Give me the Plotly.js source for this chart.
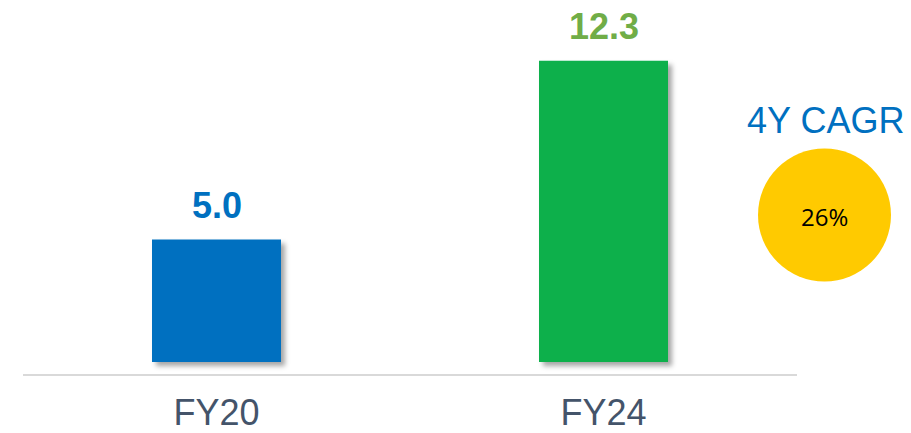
<!DOCTYPE html>
<html><head><meta charset="utf-8">
<script src="https://cdn.plot.ly/plotly-3.0.1.min.js"></script>
<style>html,body{margin:0;padding:0;background:#fff;}#chart{width:911px;height:433px;}</style>
</head><body><div id="chart"></div>
<script>
const categories = ['FY20', 'FY24'];
const values = [5.0, 12.3];
const barColors = ['#0070C0', '#0EB04B'];
const labelColors = ['#0070C0', '#70AD47'];
const cagrTitle = '4Y CAGR';
const cagrValue = '26%';

const W = 911, H = 433, mb = 59;
const plotH = H - mb;
const pxPerUnit = 24.5;
const zeroPx = 362;
const yMin = -(plotH - zeroPx) / pxPerUnit;
const yMax = zeroPx / pxPerUnit;

const annotations = categories.map((c, i) => ({
  x: c, y: values[i], xref: 'x', yref: 'y',
  text: '<b>' + values[i].toFixed(1) + '</b>',
  showarrow: false, yanchor: 'bottom', yshift: 12,
  font: {family: 'Liberation Sans, Arial, sans-serif', size: 36, color: labelColors[i]}
}));
annotations.push({
  x: 825 / W, y: (plotH - 120.5) / plotH, xref: 'paper', yref: 'paper',
  text: cagrTitle, showarrow: false, xanchor: 'center', yanchor: 'middle',
  font: {family: 'Liberation Sans, Arial, sans-serif', size: 36, color: '#0070C0'}
});
annotations.push({
  x: 824.5 / W, y: (plotH - 216) / plotH, xref: 'paper', yref: 'paper',
  text: cagrValue, showarrow: false, xanchor: 'center', yanchor: 'middle',
  font: {family: 'Open Sans, Liberation Sans, sans-serif', size: 24, color: '#000000'}
});

const data = [{
  type: 'bar', x: categories, y: values, width: 1/3,
  marker: {color: barColors, line: {width: 0}},
  hoverinfo: 'none'
}];

const layout = {
  width: W, height: H,
  margin: {l: 0, r: 0, t: 0, b: mb, pad: 0},
  paper_bgcolor: '#ffffff', plot_bgcolor: '#ffffff',
  showlegend: false,
  xaxis: {
    type: 'category', domain: [23 / W, 797 / W], range: [-0.5, 1.5],
    showline: true, linecolor: '#D9D9D9', linewidth: 2,
    showgrid: false, zeroline: false, ticks: '',
    tickfont: {family: 'Liberation Sans, Arial, sans-serif', size: 36, color: '#44546A'},
    ticklabelstandoff: 6
  },
  yaxis: {range: [yMin, yMax], visible: false, fixedrange: true},
  shapes: [{
    type: 'circle', xref: 'paper', yref: 'paper',
    x0: 758 / W, x1: 891 / W,
    y0: (plotH - 281.5) / plotH, y1: (plotH - 148.5) / plotH,
    fillcolor: '#FFCA00', line: {width: 0}, layer: 'above'
  }],
  annotations: annotations
};

Plotly.newPlot('chart', data, layout, {displayModeBar: false, staticPlot: true}).then(() => {
  const svg = document.querySelector('#chart .main-svg');
  const ns = 'http://www.w3.org/2000/svg';
  let defs = svg.querySelector('defs');
  if (!defs) { defs = document.createElementNS(ns, 'defs'); svg.insertBefore(defs, svg.firstChild); }
  const f = document.createElementNS(ns, 'filter');
  f.setAttribute('id', 'barShadow');
  f.setAttribute('x', '-20%'); f.setAttribute('y', '-20%');
  f.setAttribute('width', '150%'); f.setAttribute('height', '150%');
  const ds = document.createElementNS(ns, 'feDropShadow');
  ds.setAttribute('dx', '4'); ds.setAttribute('dy', '4');
  ds.setAttribute('stdDeviation', '2.5');
  ds.setAttribute('flood-color', '#000'); ds.setAttribute('flood-opacity', '0.35');
  f.appendChild(ds); defs.appendChild(f);
  document.querySelectorAll('#chart .bars .point path').forEach(p => p.setAttribute('filter', 'url(#barShadow)'));
});
</script></body></html>
